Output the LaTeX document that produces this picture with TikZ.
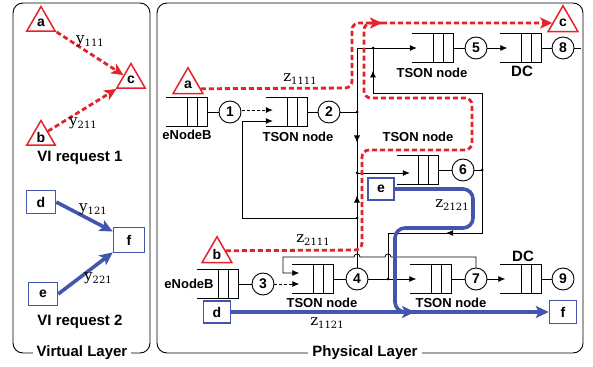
\documentclass[tikz,border=0pt]{standalone}
\usepackage{fontspec}
\setmainfont{Liberation Sans}
\newfontfamily\lblfont{DejaVu Serif}
\usepackage{tikz}
\usetikzlibrary{arrows.meta,shapes.geometric,calc,decorations.markings}
\definecolor{cRed}{HTML}{E5222B}
\definecolor{cBlue}{HTML}{4455AE}
\newcommand{\zl}[2]{{\lblfont\fontsize{15}{15}\selectfont #1\raisebox{-3.5pt}{\fontsize{10}{10}\selectfont #2}}}
% queue: name, x, y
\newcommand{\queue}[3]{%
  \node[qslot] (#1) at (#2,#3) {};
  \draw[link] (#1.north west) -- (#1.north east) -- (#1.south east) -- (#1.south west);
  \draw[link] ($(#1.north west)!0.52!(#1.north east)$) -- ($(#1.south west)!0.52!(#1.south east)$);
  \draw[link] ($(#1.north west)!0.76!(#1.north east)$) -- ($(#1.south west)!0.76!(#1.south east)$);}
\tikzset{
  >={Latex[length=7pt,width=6pt]},
  link/.style={line width=0.8pt, black},
  larr/.style={link, ->},
  midarr/.style={postaction={decorate}, decoration={markings,
      mark=at position #1 with {\arrow{Latex[length=7pt,width=6pt]}}}},
  midarr/.default=0.5,
  qslot/.style={minimum width=41pt, minimum height=29pt, inner sep=0pt},
  num/.style={circle, draw, line width=0.9pt, fill=white, minimum size=22pt, inner sep=0pt,
              font=\bfseries\fontsize{14}{14}\selectfont},
  lab/.style={font=\bfseries\fontsize{13}{13}\selectfont, inner sep=1pt},
  dclab/.style={font=\bfseries\fontsize{15}{15}\selectfont, inner sep=1pt},
  req/.style={font=\bfseries\fontsize{15}{15}\selectfont, inner sep=1pt},
  vtri/.style={regular polygon, regular polygon sides=3, draw=cRed, line width=1.5pt, fill=white,
               minimum size=33pt, inner sep=0pt, font=\bfseries\fontsize{14}{14}\selectfont},
  vbox/.style={draw=cBlue, line width=1.5pt, fill=white, minimum width=#1, minimum height=23pt,
               inner sep=0pt, font=\bfseries\fontsize{14}{14}\selectfont},
  vbox/.default=29pt,
  rflow/.style={draw=cRed, line width=2.8pt, dash pattern=on 5pt off 3pt, rounded corners=7pt},
  bflow/.style={draw=cBlue, line width=3.6pt, rounded corners=10pt},
  rtip/.style={-{Stealth[length=12pt,width=11pt,inset=3pt]}},
  btip/.style={-{Stealth[length=13pt,width=12pt,inset=3pt]}},
  ylab/.style={inner sep=1pt},
}
\begin{document}
\begin{tikzpicture}[x=1pt, y=-1pt,
   panel/.style={line width=0.9pt, rounded corners=10pt},
   ptitle/.style={fill=white, inner xsep=4pt, inner ysep=1pt, font=\bfseries\fontsize{15}{15}\selectfont}]
  \useasboundingbox (0,0) rectangle (593,366);
  % frames
  \draw[panel] (13,3) rectangle (150,353);
  \draw[panel] (157,3) rectangle (583,353);
  \node[ptitle] (tvirt) at (82,353) {Virtual Layer};
  \node[ptitle] (tphys) at (365,353) {Physical Layer};

  % virtual layer
  \node[vtri] (va) at (41,23) {a};
  \node[vtri] (vc) at (131,80) {c};
  \node[vtri] (vb) at (41,137) {b};
  \node[vbox] (vd) at (41,202) {d};
  \node[vbox=31pt, minimum height=25pt] (vf) at (129,240) {f};
  \node[vbox] (ve) at (43,294) {e};
  \draw[rflow, rtip] (va.corner 3) -- (vc);
  \draw[rflow, rtip] ($(vb.corner 1)!0.45!(vb.corner 3)$) -- (vc);
  \draw[bflow, btip] (vd.east) -- (vf);
  \draw[bflow, btip] (ve.east) -- (vf);
  \node[ylab] (y1) at (90,41) {\zl{y}{111}};
  \node[ylab] (y2) at (83,123) {\zl{y}{211}};
  \node[ylab] (y3) at (93,209) {\zl{y}{121}};
  \node[ylab] (y4) at (98,278) {\zl{y}{221}};
  \node[req] (r1) at (80,158) {VI request 1};
  \node[req] (r2) at (80,322) {VI request 2};

  % physical layer: queues and ports
  \queue{q1}{187}{112}
  \queue{q2}{286.5}{112}
  \queue{q5}{432.5}{48}
  \queue{q8}{521}{48}
  \queue{q6}{417.5}{170}
  \queue{q3}{217.5}{284}
  \queue{q4}{313}{279}
  \queue{q7}{431}{279}
  \queue{q9}{521}{279}
  \node[num] (n1) at (230,112) {1};
  \node[num] (n2) at (329,112) {2};
  \node[num] (n5) at (476,48) {5};
  \node[num] (n8) at (563,48) {8};
  \node[num] (n6) at (463,170) {6};
  \node[num] (n3) at (263,284) {3};
  \node[num] (n4) at (357,279) {4};
  \node[num] (n7) at (476,279) {7};
  \node[num] (n9) at (563,279) {9};
  \node[lab] (l1) at (187,135) {eNodeB};
  \node[lab] (l2) at (298,137) {TSON node};
  \node[lab] (l5) at (432,73) {TSON node};
  \node[dclab] (l8) at (522,71) {DC};
  \node[lab] (l6) at (418,137) {TSON node};
  \node[lab] (l3) at (189,284) {eNodeB};
  \node[lab] (l4) at (322,303) {TSON node};
  \node[lab] (l7) at (451,303) {TSON node};
  \node[dclab] (l9) at (523,256) {DC};

  % junctions
  \coordinate (jtop) at (357,48);
  \coordinate (j5) at (373,48);
  \coordinate (j2) at (357,112);
  \coordinate (j6) at (357,173);
  \coordinate (j7) at (357,218);
  \coordinate (k1) at (482,170);
  \coordinate (k2) at (482,93);
  \coordinate (k3) at (373,93);
  \coordinate (k4) at (482,233);
  \coordinate (k5) at (388,233);
  \coordinate (k6) at (388,279);
  \coordinate (out8) at (581,48);

  % black links
  \draw[link] (q1.east) -- (n1);
  \draw[larr, dash pattern=on 3pt off 2pt] ($(n1.east)+(1,-2)$) -- ($(q2.west)+(7,-2)$);
  \draw[larr] (j7) -| ($(q2.west)+(-23,9)$) -- ($(q2.west)+(7,9)$);
  \draw[link] (q2.east) -- (n2);
  \draw[link] (n2) -- (j2);
  \draw[link] (j2) -- (jtop);
  \draw[link, midarr] (j2) -- (j6);
  \draw[link, midarr] (j7) -- (j6);
  \draw[link] (n4.north) -- (j7);
  \draw[larr] (jtop) -- ($(q5.west)+(5,0)$);
  \draw[link] (q5.east) -- (n5);
  \draw[larr] (n5) -- ($(q8.west)+(7,0)$);
  \draw[link] (q8.east) -- (n8);
  \draw[link] (n8) -- (out8);
  \draw[larr] (j6) -- ($(q6.west)+(13,3)$);
  \draw[link] (q6.east) -- (n6);
  \draw[link] (n6) -- (k1);
  \draw[link] (k1) -- (k2) -- (k3);
  \draw[link, midarr] (k3) -- (j5);
  \draw[link, midarr=0.63] (k1) -- (k4) -- (k5);
  \draw[link] (k5) -- (k6);
  \draw[link] (q3.east) -- (n3);
  \draw[larr, dash pattern=on 3pt off 2pt] (n3) -- ($(q4.west)+(7,5)$);
  \draw[link] (q4.east) -- (n4);
  \draw[larr] (n4) -- ($(q7.west)+(6,0)$);
  \draw[link] (q7.east) -- (n7);
  \draw[larr] (n7) -- ($(q9.west)+(5,0)$);
  \draw[link] (q9.east) -- (n9);
  \draw[larr] (n7.north) -- (476,257) -- (391,257)
      .. controls (391,253) and (385,253) .. (385,257) -- (360,257)
      .. controls (360,253) and (354,253) .. (354,257) -- (283,257)
      -- (283,273) -- ($(q4.west)+(7,-6)$);
  \foreach \p in {j5,j2,j6,j7,k1,k6}
    \fill (\p) circle (1.5pt);

  % physical layer: endpoints and paths
  \node[vtri, minimum size=34.5pt] (pa) at (188,85) {a};
  \node[vtri, minimum size=34.5pt] (pb) at (217,254) {b};
  \node[vtri, minimum size=34.5pt] (pc) at (563,23) {c};
  \node[vbox=27pt, minimum height=22pt] (pd) at (217,312) {d};
  \node[vbox=26pt, minimum height=22pt] (pe) at (381,189) {e};
  \node[vbox=27pt, minimum height=23pt] (pf) at (563,312) {f};
  \coordinate (rj) at (382,23);
  \coordinate (bj) at (415,312);
  \draw[rflow, rtip] ($(pa.corner 3)!0.2!(pa.corner 1)$) -- (352,88) -- (352,23) -- (rj);
  \draw[rflow] ($(pb.corner 3)!0.45!(pb.corner 1)$) -- (362,250) -- (362,150) -- (472,150)
      -- (472,98) -- (364,98) -- (364,23) -- (rj);
  \draw[rflow, rtip] (rj) -- (pc);
  \draw[bflow, btip] (pd) -- (pf);
  \draw[bflow, btip] (pe.east) -- (473,189) -- (473,228) -- (395,228) -- (395,312) -- (bj);
  \node[ylab] (z1) at (300,79) {\zl{z}{1111}};
  \node[ylab] (z2) at (313,240) {\zl{z}{2111}};
  \node[ylab] (z3) at (452,205) {\zl{z}{2121}};
  \node[ylab] (z4) at (327,323) {\zl{z}{1121}};
\end{tikzpicture}
\end{document}
